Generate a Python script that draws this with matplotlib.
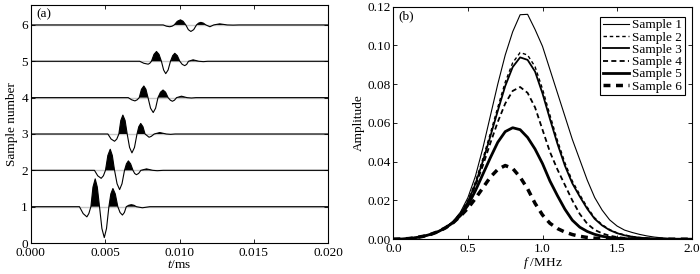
import matplotlib
matplotlib.use("Agg")
import matplotlib.pyplot as plt
import numpy as np

plt.rcParams['font.family'] = ['Liberation Serif', 'DejaVu Serif']
plt.rcParams['mathtext.fontset'] = 'custom'
plt.rcParams['mathtext.rm'] = 'Liberation Serif'
plt.rcParams['mathtext.it'] = 'Liberation Serif:italic'
plt.rcParams['font.size'] = 9.5

# ---- (a) wiggle traces: time (ms) and deflection from the baseline ----
t1 = [0.0, 0.00327, 0.00352, 0.00377, 0.00390, 0.00404, 0.00418, 0.00433, 0.00447, 0.00462,
      0.00478, 0.00494, 0.00509, 0.00525, 0.00538, 0.00552, 0.00568, 0.00585, 0.00600, 0.00616,
      0.00629, 0.00642, 0.00659, 0.00676, 0.00693, 0.0071, 0.0075, 0.0080, 0.02]
d1 = [0, 0, -0.19, -0.28, -0.19, 0, 0.54, 0.765, 0.54, 0,
      -0.6, -0.85, -0.6, 0, 0.35, 0.50, 0.35, 0, -0.16, -0.23,
      -0.16, 0, 0.04, 0.055, 0.04, 0, -0.03, 0, 0]

t2 = [0.0, 0.00428, 0.00450, 0.00473, 0.00488, 0.00502, 0.00518, 0.00534, 0.00548, 0.00563,
      0.00580, 0.00597, 0.00613, 0.00630, 0.00643, 0.00656, 0.00671, 0.00687, 0.00698, 0.00710,
      0.00725, 0.00740, 0.00778, 0.0082, 0.0085, 0.0089, 0.02]
d2 = [0, 0, -0.15, -0.22, -0.15, 0, 0.41, 0.58, 0.41, 0,
      -0.37, -0.53, -0.37, 0, 0.18, 0.26, 0.18, 0, -0.085, -0.12,
      -0.085, 0, 0.04, 0, -0.01, 0, 0]

t3 = [0.0, 0.00518, 0.00540, 0.00563, 0.00578, 0.00592, 0.00605, 0.00619, 0.00634, 0.00648,
      0.00664, 0.00680, 0.00697, 0.00714, 0.00726, 0.00739, 0.00754, 0.00768, 0.00795, 0.0081,
      0.0083, 0.00867, 0.0091, 0.0094, 0.0097, 0.02]
d3 = [0, 0, -0.14, -0.20, -0.14, 0, 0.37, 0.52, 0.37, 0,
      -0.37, -0.52, -0.37, 0, 0.20, 0.29, 0.20, 0, -0.09, -0.065,
      0, 0.04, 0, -0.01, 0, 0]

t4 = [0.0, 0.00655, 0.00678, 0.00700, 0.00715, 0.00729, 0.00744, 0.00760, 0.00774, 0.00788,
      0.00805, 0.00823, 0.00839, 0.00855, 0.00872, 0.00889, 0.00906, 0.00923, 0.00938, 0.00952,
      0.00966, 0.0098, 0.01013, 0.0105, 0.0108, 0.0111, 0.02]
d4 = [0, 0, -0.06, -0.09, -0.06, 0, 0.23, 0.32, 0.23, 0,
      -0.29, -0.41, -0.29, 0, 0.15, 0.21, 0.15, 0, -0.07, -0.10,
      -0.07, 0, 0.04, 0, -0.01, 0, 0]

t5 = [0.0, 0.00732, 0.00760, 0.00789, 0.00800, 0.00811, 0.00828, 0.00845, 0.00862, 0.00878,
      0.00893, 0.00907, 0.00923, 0.00939, 0.00954, 0.00968, 0.00985, 0.01002, 0.01018, 0.01035,
      0.01048, 0.0106, 0.01091, 0.0113, 0.0116, 0.0119, 0.02]
d5 = [0, 0, -0.055, -0.08, -0.055, 0, 0.19, 0.27, 0.19, 0,
      -0.24, -0.34, -0.24, 0, 0.155, 0.22, 0.155, 0, -0.085, -0.12,
      -0.085, 0, 0.04, 0, -0.01, 0, 0]

t6 = [0.0, 0.0089, 0.00912, 0.00934, 0.00950, 0.00964, 0.00985, 0.01006, 0.01024, 0.01042,
      0.01059, 0.01076, 0.01095, 0.01114, 0.01128, 0.01143, 0.01160, 0.01177, 0.01204, 0.0123,
      0.0127, 0.0132, 0.0136, 0.0140, 0.02]
d6 = [0, 0, -0.035, -0.05, -0.035, 0, 0.10, 0.14, 0.10, 0,
      -0.13, -0.18, -0.13, 0, 0.05, 0.07, 0.05, 0, -0.05, 0,
      0.03, 0, -0.005, 0, 0]

traces = [(t1, d1), (t2, d2), (t3, d3), (t4, d4), (t5, d5), (t6, d6)]

# ---- (b) amplitude spectra ----
freq = [0.00, 0.05, 0.10, 0.15, 0.20, 0.25, 0.30, 0.35, 0.40, 0.45,
        0.50, 0.55, 0.60, 0.65, 0.70, 0.75, 0.80, 0.85, 0.90, 0.95,
        1.00, 1.05, 1.10, 1.15, 1.20, 1.25, 1.30, 1.35, 1.40, 1.45,
        1.50, 1.55, 1.60, 1.65, 1.70, 1.75, 1.80, 1.85, 1.90, 1.95, 2.00]
amp1 = [0, 0.0001, 0.0003, 0.0008, 0.0015, 0.0025, 0.0040, 0.0062, 0.0092, 0.0140,
        0.0215, 0.0325, 0.0470, 0.0635, 0.0800, 0.0950, 0.1070, 0.1158, 0.1160, 0.1082,
        0.0995, 0.0875, 0.0755, 0.0635, 0.0515, 0.0410, 0.0305, 0.0215, 0.0150, 0.0100,
        0.0068, 0.0047, 0.0035, 0.0025, 0.0017, 0.0011, 0.0007, 0.0004, 0.0002, 0.0001, 0]
amp2 = [0, 0.0001, 0.0003, 0.0008, 0.0015, 0.0025, 0.0040, 0.0062, 0.0090, 0.0135,
        0.0200, 0.0295, 0.0415, 0.0545, 0.0680, 0.0810, 0.0910, 0.0963, 0.0950, 0.0890,
        0.0775, 0.0640, 0.0510, 0.0395, 0.0300, 0.0230, 0.0165, 0.0110, 0.0075, 0.0050,
        0.0033, 0.0022, 0.0014, 0.0009, 0.0005, 0.0003, 0.0002, 0.0001, 0, 0, 0]
amp3 = [0, 0.0001, 0.0003, 0.0008, 0.0015, 0.0025, 0.0039, 0.0060, 0.0088, 0.0130,
        0.0193, 0.0285, 0.0402, 0.0530, 0.0662, 0.0790, 0.0888, 0.0938, 0.0925, 0.0865,
        0.0752, 0.0620, 0.0493, 0.0380, 0.0288, 0.0220, 0.0157, 0.0105, 0.0071, 0.0047,
        0.0031, 0.0020, 0.0013, 0.0008, 0.0005, 0.0003, 0.0002, 0.0001, 0, 0, 0]
amp4 = [0, 0.0001, 0.0003, 0.0008, 0.0015, 0.0025, 0.0039, 0.0060, 0.0088, 0.0128,
        0.0190, 0.0275, 0.0380, 0.0495, 0.0605, 0.0700, 0.0765, 0.0785, 0.0755, 0.0680,
        0.0565, 0.0450, 0.0360, 0.0280, 0.0200, 0.0130, 0.0080, 0.0048, 0.0030, 0.0018,
        0.0011, 0.0007, 0.0004, 0.0002, 0.0001, 0, 0, 0, 0, 0, 0]
amp5 = [0, 0.0001, 0.0003, 0.0008, 0.0015, 0.0025, 0.0039, 0.0059, 0.0085, 0.0122,
        0.0175, 0.0250, 0.0335, 0.0420, 0.0500, 0.0555, 0.0575, 0.0565, 0.0525, 0.0465,
        0.0390, 0.0300, 0.0225, 0.0155, 0.0098, 0.0062, 0.0040, 0.0025, 0.0015, 0.0009,
        0.0005, 0.0003, 0.0001, 0, 0, 0, 0, 0, 0, 0, 0]
amp6 = [0, 0.0001, 0.0003, 0.0008, 0.0015, 0.0025, 0.0039, 0.0059, 0.0085, 0.0120,
        0.0160, 0.0210, 0.0265, 0.0320, 0.0360, 0.0380, 0.0365, 0.0320, 0.0260, 0.0185,
        0.0125, 0.0082, 0.0055, 0.0037, 0.0024, 0.0015, 0.0009, 0.0005, 0.0003, 0.0001,
        0, 0, 0, 0, 0, 0, 0, 0, 0, 0, 0]

labels = ['Sample 1', 'Sample 2', 'Sample 3', 'Sample 4', 'Sample 5', 'Sample 6']
spectra = [amp1, amp2, amp3, amp4, amp5, amp6]
styles = [('-', 0.8), ((0, (2.5, 2.0)), 1.0), ('-', 1.3),
          ((0, (2.8, 1.8)), 1.3), ('-', 2.0), ((0, (2.0, 1.6)), 2.5)]

fig = plt.figure(figsize=(7, 2.74), dpi=100)
ax1 = fig.add_axes([0.044, 0.113, 0.425, 0.869])
ax2 = fig.add_axes([0.562, 0.127, 0.426, 0.849])

# left panel
for k, (t, d) in enumerate(traces):
    base = k + 1
    t = np.array(t)
    y = base + np.array(d)
    ax1.axhline(base, color='#c8c8c8', lw=1.0, zorder=1)
    ax1.fill_between(t, base, y, where=y > base, interpolate=True,
                     color='black', lw=0, zorder=2)
    ax1.plot(t, y, color='black', lw=0.8, zorder=3)

ax1.set_xlim(0, 0.02)
ax1.set_ylim(0, 6.55)
ax1.set_xticks([0.0, 0.005, 0.010, 0.015, 0.020])
ax1.set_xticklabels(['0.000', '0.005', '0.010', '0.015', '0.020'])
ax1.set_yticks(range(7))
ax1.set_xlabel('$t$/ms', labelpad=0)
ax1.set_ylabel('Sample number', labelpad=2)
ax1.text(0.02, 0.985, '(a)', transform=ax1.transAxes, va='top', ha='left')

# right panel
for amp, lab, (ls, lw) in zip(spectra, labels, styles):
    ax2.plot(freq, amp, color='black', linestyle=ls, lw=lw, label=lab)

ax2.set_xlim(0, 2)
ax2.set_ylim(0, 0.12)
ax2.set_xticks([0.0, 0.5, 1.0, 1.5, 2.0])
ax2.set_xticklabels(['0.0', '0.5', '1.0', '1.5', '2.0'])
ax2.set_yticks([0.0, 0.02, 0.04, 0.06, 0.08, 0.10, 0.12])
ax2.set_yticklabels(['0.00', '0.02', '0.04', '0.06', '0.08', '0.10', '0.12'])
ax2.set_xlabel('$f$ /MHz', labelpad=0)
ax2.set_ylabel('Amplitude', labelpad=2)
ax2.text(0.017, 0.985, '(b)', transform=ax2.transAxes, va='top', ha='left')
leg = ax2.legend(loc='upper right', bbox_to_anchor=(0.977, 0.957), borderaxespad=0,
                 fancybox=False, edgecolor='black', framealpha=1,
                 handlelength=2.0, handletextpad=0.2, labelspacing=0.0,
                 borderpad=0.2, fontsize=9.5)
leg.get_frame().set_linewidth(0.8)

for ax in (ax1, ax2):
    ax.tick_params(direction='in', top=True, right=True, length=3, width=0.6, pad=2)
    ax.tick_params(axis='x', pad=3)
    for s in ax.spines.values():
        s.set_linewidth(0.8)

fig.savefig('out.png', dpi=100)
